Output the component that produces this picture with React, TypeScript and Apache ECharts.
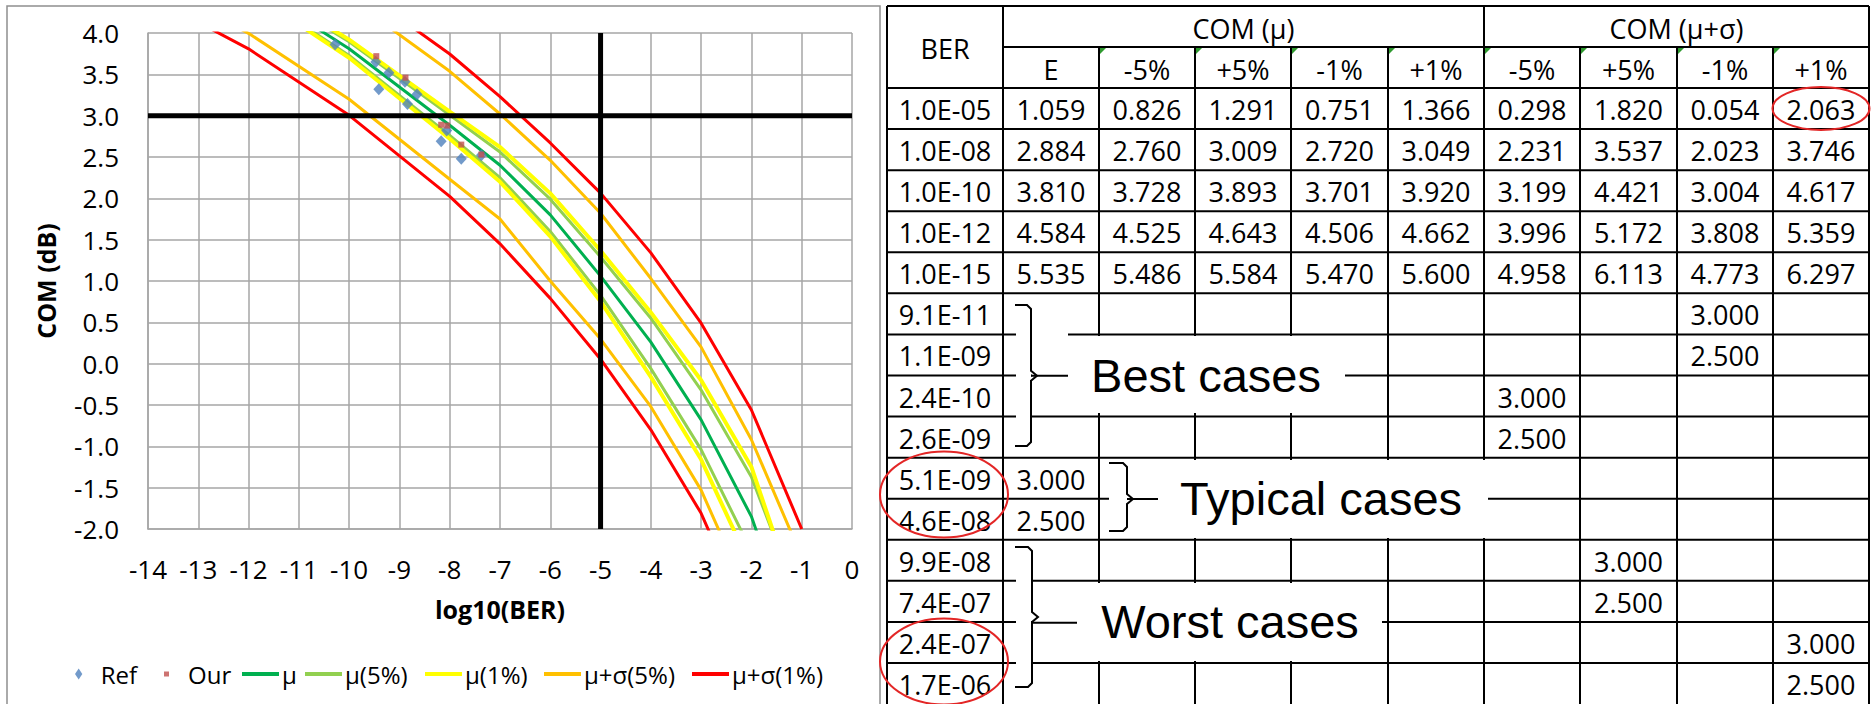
import React, { useEffect, useRef } from 'react';
import * as echarts from 'echarts';

// ---------------- DATA ----------------
const berLabels = ['1.0E-05', '1.0E-08', '1.0E-10', '1.0E-12', '1.0E-15'];
const logBER = [-5, -8, -10, -12, -15];

const comMuE = [1.059, 2.884, 3.81, 4.584, 5.535];
const comMuM5 = [0.826, 2.76, 3.728, 4.525, 5.486];
const comMuP5 = [1.291, 3.009, 3.893, 4.643, 5.584];
const comMuM1 = [0.751, 2.72, 3.701, 4.506, 5.47];
const comMuP1 = [1.366, 3.049, 3.92, 4.662, 5.6];
const comSgM5 = [0.298, 2.231, 3.199, 3.996, 4.958];
const comSgP5 = [1.82, 3.537, 4.421, 5.172, 6.113];
const comSgM1 = [0.054, 2.023, 3.004, 3.808, 4.773];
const comSgP1 = [2.063, 3.746, 4.617, 5.359, 6.297];

// extra curve points (log10 BER)
const extraLogBER = [-7, -6, -4, -3, -2, -1];
const extraMuE = [2.4, 1.8, 0.26, -0.68, -1.85, -3.6];
const extraMuM5 = [2.25, 1.6, -0.06, -1.04, -2.27, null];
const extraMuP5 = [2.56, 1.99, 0.55, -0.32, -1.37, -2.96];
const extraMuM1 = [2.2, 1.54, -0.16, -1.16, -2.47, null];
const extraMuP1 = [2.62, 2.06, 0.62, -0.2, -1.25, -3.05];
const extraSgM5 = [1.75, 1.0, -0.52, -1.53, -2.9, null];
const extraSgP5 = [3.02, 2.46, 1.03, 0.2, -0.92, -2.34];
const extraSgM1 = [1.45, 0.79, -0.8, -1.81, -3.2, null];
const extraSgP1 = [3.23, 2.67, 1.34, 0.49, -0.56, -2.0];

const refLogBER = [-10.28, -9.47, -9.41, -9.21, -8.89, -8.65, -8.84, -8.17, -8.06, -7.77, -7.37];
const refCOM = [3.86, 3.65, 3.32, 3.52, 3.41, 3.26, 3.14, 2.69, 2.82, 2.48, 2.52];
const ourLogBER = [-9.46, -8.88, -8.17, -8.05, -7.77, -7.37];
const ourCOM = [3.72, 3.46, 2.89, 2.88, 2.65, 2.53];

const targetCOM = 3;
const targetLogBER = -5;

const groupHeaders = ['COM (μ)', 'COM (μ+σ)'];
const subHeaders = ['E', '-5%', '+5%', '-1%', '+1%', '-5%', '+5%', '-1%', '+1%'];
const caseLabels = ['9.1E-11', '1.1E-09', '2.4E-10', '2.6E-09', '5.1E-09', '4.6E-08', '9.9E-08', '7.4E-07', '2.4E-07', '1.7E-06'];
const caseColumn = [8, 8, 6, 6, 1, 1, 7, 7, 9, 9];
const caseCOM = [3.0, 2.5, 3.0, 2.5, 3.0, 2.5, 3.0, 2.5, 3.0, 2.5];
const caseGroups = ['Best cases', 'Typical cases', 'Worst cases'];

// ---------------- BUILD ----------------
function curve(main: number[], extra: (number | null)[]) {
  const pts: number[][] = [];
  logBER.forEach((x, i) => pts.push([x, main[i]]));
  extraLogBER.forEach((x, i) => {
    const v = extra[i];
    if (v !== null) pts.push([x, v]);
  });
  return pts.sort((a, b) => a[0] - b[0]);
}

const GREEN = '#00B050', LGREEN = '#92D050', YELLOW = '#FFFF00', ORANGE = '#FFC000', RED = '#FF0000';

const lineDefs = [
  { name: 'μ', color: GREEN, w: 3, data: curve(comMuE, extraMuE) },
  { name: 'μ(5%)', color: LGREEN, w: 3, data: curve(comMuM5, extraMuM5) },
  { name: 'μ(5%)', color: LGREEN, w: 3, data: curve(comMuP5, extraMuP5) },
  { name: 'μ(1%)', color: YELLOW, w: 4, data: curve(comMuM1, extraMuM1) },
  { name: 'μ(1%)', color: YELLOW, w: 4, data: curve(comMuP1, extraMuP1) },
  { name: 'μ+σ(5%)', color: ORANGE, w: 3, data: curve(comSgM5, extraSgM5) },
  { name: 'μ+σ(5%)', color: ORANGE, w: 3, data: curve(comSgP5, extraSgP5) },
  { name: 'μ+σ(1%)', color: RED, w: 3, data: curve(comSgM1, extraSgM1) },
  { name: 'μ+σ(1%)', color: RED, w: 3, data: curve(comSgP1, extraSgP1) },
];

const FONT = 'Open Sans';
const TXT = '#000';
const AXFS = 26;
const TBFS = 27;

const legendDefs = [
  { name: 'Ref', left: 75, icon: 'path://M4,0L8,6L4,12L0,6Z', w: 8, h: 11, pad: 13 },
  { name: 'Our', left: 164, icon: 'path://M0,0H5V5H0Z', w: 5, h: 5, pad: 14 },
  { name: 'μ', left: 242, icon: 'rect', w: 37, h: 4, pad: -2 },
  { name: 'μ(5%)', left: 305, icon: 'rect', w: 37, h: 4, pad: -2 },
  { name: 'μ(1%)', left: 425, icon: 'rect', w: 37, h: 4, pad: -2 },
  { name: 'μ+σ(5%)', left: 544, icon: 'rect', w: 37, h: 4, pad: -2 },
  { name: 'μ+σ(1%)', left: 692, icon: 'rect', w: 37, h: 4, pad: -2 },
];

// ---------------- TABLE GRAPHICS ----------------
const colX = [887, 1003, 1099, 1195, 1291, 1388, 1484, 1580, 1677, 1773, 1869];
const topY = 6, head1Y = 47, head2Y = 88, rowH = 41.07;
const rowY = (i: number) => head2Y + i * rowH;
const colC = (c: number) => (colX[c] + colX[c + 1]) / 2;

function buildTable() {
  const G: any[] = [];
  const ln = (x1: number, y1: number, x2: number, y2: number, w = 2) =>
    G.push({ type: 'line', silent: true, shape: { x1, y1, x2, y2 }, style: { stroke: '#000', lineWidth: w } });
  const white = (x: number, y: number, width: number, height: number) =>
    G.push({ type: 'rect', silent: true, shape: { x, y, width, height }, style: { fill: '#fff' } });
  const txt = (text: string, x: number, y: number, size: number, family = FONT) =>
    G.push({
      type: 'text', silent: true, x, y,
      style: { text, fill: '#000', fontSize: size, fontFamily: family, align: 'center', verticalAlign: 'middle' },
    });
  const bracket = (x0: number, x1: number, top: number, mid: number, bot: number) =>
    G.push({
      type: 'polyline', silent: true,
      shape: { points: [[x0, top], [x1 - 4, top], [x1, top + 4], [x1, mid - 5], [x1 + 6, mid], [x1, mid + 5], [x1, bot - 4], [x1 - 4, bot], [x0, bot]] },
      style: { stroke: '#000', lineWidth: 2, fill: 'none' },
    });

  // chart frame
  G.push({ type: 'rect', silent: true, shape: { x: 7, y: 6, width: 873, height: 720 }, style: { fill: 'none', stroke: '#8f8f8f', lineWidth: 1.5 } });

  // horizontal lines
  ln(colX[0], topY, colX[10], topY);
  ln(colX[1], head1Y, colX[10], head1Y);
  for (let i = 0; i < 15; i++) ln(colX[0], rowY(i), colX[10], rowY(i));
  // vertical lines
  colX.forEach((x, c) => {
    const full = c === 0 || c === 1 || c === 6 || c === 10;
    ln(x, full ? topY : head1Y, x, 704);
  });

  // covers (text boxes / brackets)
  white(1016, 296, 15, 158);
  white(1032, 331, 36, 82);
  white(1068, 336, 277, 77);
  white(1109, 460, 379, 78);
  white(1016, 543, 15, 150);
  white(1032, 583, 350, 78);

  // brackets and connectors
  bracket(1015, 1031, 305, 375.7, 446);
  ln(1031, 375.7, 1068, 375.7);
  bracket(1109, 1127, 463, 499, 531);
  ln(1127, 499, 1158, 499);
  bracket(1015, 1032, 547, 617, 687);
  ln(1032, 622.7, 1077, 622.7);

  txt(caseGroups[0], 1206, 375, 47, 'Liberation Sans');
  txt(caseGroups[1], 1321, 498, 47, 'Liberation Sans');
  txt(caseGroups[2], 1230, 621, 47, 'Liberation Sans');

  // headers
  txt('BER', colC(0), 48, TBFS);
  txt(groupHeaders[0], (colX[1] + colX[6]) / 2, 28, TBFS);
  txt(groupHeaders[1], (colX[6] + colX[10]) / 2, 28, TBFS);
  subHeaders.forEach((h, k) => txt(h, colC(k + 1), 69, TBFS));

  // main rows
  const cols = [comMuE, comMuM5, comMuP5, comMuM1, comMuP1, comSgM5, comSgP5, comSgM1, comSgP1];
  berLabels.forEach((lab, i) => {
    const cy = rowY(i) + rowH / 2 + 1;
    txt(lab, colC(0), cy, TBFS);
    cols.forEach((col, k) => txt(col[i].toFixed(3), colC(k + 1), cy, TBFS));
  });
  // case rows
  caseLabels.forEach((lab, j) => {
    const cy = rowY(5 + j) + rowH / 2 + 1;
    txt(lab, colC(0), cy, TBFS);
    txt(caseCOM[j].toFixed(3), colC(caseColumn[j]), cy, TBFS);
  });

  // green error indicators
  for (let c = 2; c <= 9; c++) {
    const x = colX[c];
    G.push({ type: 'polygon', silent: true, shape: { points: [[x + 1, 48], [x + 7, 48], [x + 1, 54]] }, style: { fill: '#2f9a2f' } });
  }

  // red ellipses
  const ell = (cx: number, cy: number, rx: number, ry: number) =>
    G.push({ type: 'ellipse', silent: true, shape: { cx, cy, rx, ry }, style: { fill: 'none', stroke: '#E32626', lineWidth: 2 } });
  ell(1821, 108.5, 48.5, 21.5);
  ell(944, 494.5, 64, 43);
  ell(944, 661.5, 64, 43);
  return G;
}

// ---------------- OPTION ----------------
const series: any[] = [
  ...lineDefs.map((d) => ({
    type: 'line', name: d.name, data: d.data, showSymbol: false, symbol: 'none', clip: true,
    color: d.color, itemStyle: { color: d.color }, lineStyle: { color: d.color, width: d.w }, z: 2, silent: true,
  })),
  {
    type: 'line', name: 'target COM', data: [[-14, targetCOM], [0, targetCOM]], symbol: 'none', showSymbol: false,
    lineStyle: { color: '#000', width: 5 }, z: 3, silent: true,
  },
  {
    type: 'line', name: 'target BER', data: [[targetLogBER, -2], [targetLogBER, 4]], symbol: 'none', showSymbol: false,
    lineStyle: { color: '#000', width: 5 }, z: 3, silent: true,
  },
  {
    type: 'scatter', name: 'Ref', data: refLogBER.map((x, i) => [x, refCOM[i]]), symbol: 'diamond', symbolSize: [11, 12],
    itemStyle: { color: '#4F81BD' }, color: '#4F81BD', z: 5, silent: true,
  },
  {
    type: 'scatter', name: 'Our', data: ourLogBER.map((x, i) => [x, ourCOM[i]]), symbol: 'rect', symbolSize: 6,
    itemStyle: { color: '#C0504D' }, color: '#C0504D', z: 6, silent: true,
  },
];

const option: any = {
  animation: false,
  backgroundColor: '#fff',
  textStyle: { fontFamily: FONT, color: TXT },
  grid: { left: 148, top: 33, width: 704, height: 496, containLabel: false },
  xAxis: {
    type: 'value', min: -14, max: 0, interval: 1,
    name: 'log10(BER)', nameLocation: 'middle', nameGap: 67,
    nameTextStyle: { fontFamily: FONT, fontSize: 25, fontWeight: 'bold', color: TXT },
    axisLine: { show: true, onZero: false, lineStyle: { color: '#A6A6A6', width: 1.5 } },
    axisTick: { show: false },
    axisLabel: { fontFamily: FONT, fontSize: AXFS, color: TXT, margin: 27 },
    splitLine: { show: true, lineStyle: { color: '#A6A6A6', width: 1.5 } },
  },
  yAxis: {
    type: 'value', min: -2, max: 4, interval: 0.5,
    name: 'COM (dB)', nameLocation: 'middle', nameGap: 90,
    nameTextStyle: { fontFamily: FONT, fontSize: 25, fontWeight: 'bold', color: TXT },
    axisLine: { show: true, onZero: false, lineStyle: { color: '#A6A6A6', width: 1.5 } },
    axisTick: { show: false },
    axisLabel: { fontFamily: FONT, fontSize: AXFS, color: TXT, margin: 29, formatter: (v: number) => v.toFixed(1) },
    splitLine: { show: true, lineStyle: { color: '#A6A6A6', width: 1.5 } },
  },
  legend: legendDefs.map((l) => ({
    data: [{ name: l.name, icon: l.icon }],
    left: l.left, top: 662, itemWidth: l.w, itemHeight: l.h, itemGap: 0, padding: 0,
    selectedMode: false, symbolKeepAspect: true,
    textStyle: { fontFamily: FONT, fontSize: 24, color: TXT, padding: [0, 0, 0, l.pad] },
  })),
  series,
  graphic: { elements: buildTable() },
};

export default function App() {
  const ref = useRef<HTMLDivElement>(null);
  useEffect(() => {
    const chart = echarts.init(ref.current as HTMLDivElement, null, { renderer: 'svg' });
    chart.setOption(option);
    return () => chart.dispose();
  }, []);
  return (
    <div
      ref={ref}
      style={{ position: 'absolute', left: 0, top: 0, width: 1871, height: 704, background: '#fff' }}
    />
  );
}
